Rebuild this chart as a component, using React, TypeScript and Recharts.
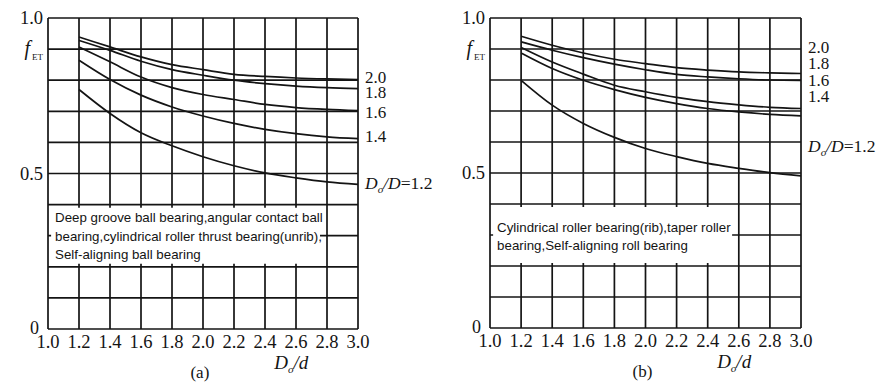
import * as React from "react";
import {
  LineChart,
  Line,
  XAxis,
  YAxis,
  CartesianGrid,
  ReferenceArea,
  ReferenceDot,
} from "recharts";

// f_ET vs Do/d for several Do/D ratios, (a) ball bearings, (b) roller bearings

const xTicks = [1.0, 1.2, 1.4, 1.6, 1.8, 2.0, 2.2, 2.4, 2.6, 2.8, 3.0];
const yTicks = [0, 0.1, 0.2, 0.3, 0.4, 0.5, 0.6, 0.7, 0.8, 0.9, 1.0];
const ratioX = [1.2, 1.4, 1.6, 1.8, 2.0, 2.2, 2.4, 2.6, 2.8, 3.0];
const curveNames = ["2.0", "1.8", "1.6", "1.4", "1.2"];

// (a) deep groove ball bearing etc.
const ballD20 = [0.939, 0.907, 0.875, 0.85, 0.834, 0.819, 0.812, 0.807, 0.804, 0.802];
const ballD18 = [0.928, 0.896, 0.861, 0.834, 0.816, 0.8, 0.789, 0.781, 0.776, 0.773];
const ballD16 = [0.907, 0.859, 0.81, 0.776, 0.754, 0.738, 0.722, 0.712, 0.706, 0.702];
const ballD14 = [0.864, 0.802, 0.752, 0.714, 0.685, 0.661, 0.642, 0.628, 0.618, 0.612];
const ballD12 = [0.77, 0.693, 0.631, 0.589, 0.554, 0.525, 0.502, 0.486, 0.473, 0.465];

// (b) cylindrical roller bearing etc.
const rollD20 = [0.941, 0.912, 0.887, 0.867, 0.853, 0.84, 0.832, 0.826, 0.823, 0.821];
const rollD18 = [0.923, 0.896, 0.872, 0.851, 0.833, 0.818, 0.81, 0.804, 0.8, 0.799];
const rollD16 = [0.905, 0.858, 0.819, 0.783, 0.762, 0.744, 0.73, 0.72, 0.712, 0.708];
const rollD14 = [0.887, 0.837, 0.799, 0.769, 0.744, 0.724, 0.708, 0.697, 0.689, 0.684];
const rollD12 = [0.799, 0.719, 0.66, 0.615, 0.579, 0.553, 0.531, 0.515, 0.501, 0.491];

// where the curve labels sit on the right (in f_ET units)
const ballLabelY = [0.81, 0.762, 0.695, 0.618, 0.469];
const rollLabelY = [0.906, 0.855, 0.8, 0.746, 0.588];

const ballNote = [
  "Deep groove ball bearing,angular contact ball",
  "bearing,cylindrical roller thrust bearing(unrib),",
  "Self-aligning ball bearing",
];
const rollNote = [
  "Cylindrical roller bearing(rib),taper roller",
  "bearing,Self-aligning roll bearing",
];

const SERIF = "'Liberation Serif', 'Times New Roman', serif";
const SANS = "'Liberation Sans', Arial, sans-serif";
const INK = "#141414";

function buildRows(series: number[][]) {
  return ratioX.map((x, i) => {
    const row: Record<string, number> = { x };
    series.forEach((s, k) => {
      row["d" + k] = s[i];
    });
    return row;
  });
}

const YTick = (props: any) => {
  const { x, y, payload } = props;
  const v = payload.value;
  if (v === 0)
    return (
      <text x={x - 4} y={y} dy="0.3em" textAnchor="end" fontFamily={SERIF} fontSize={18} fill={INK}>
        0
      </text>
    );
  if (v === 0.5 || v === 1)
    return (
      <text x={x} y={y} dy="0.33em" textAnchor="end" fontFamily={SERIF} fontSize={18.5} fill={INK}>
        {v.toFixed(1)}
      </text>
    );
  if (v === 0.9)
    return (
      <text x={x} y={y} dy="0.35em" textAnchor="end" fontFamily={SERIF} fill={INK}>
        <tspan fontSize={20} fontStyle="italic">f</tspan>
        <tspan fontSize={9} dx={2} dy={5}>ET</tspan>
      </text>
    );
  return null;
};

interface IPanelProps {
  series: number[][];
  labelY: number[];
  note: string[];
  noteX2: number;
  noteTop: number;
  caption: string;
  left: number;
  right: number;
  bottom: number;
}

const Panel: React.FC<IPanelProps> = (p) => {
  const rows = buildRows(p.series);

  const curveLabel = (name: string) => (lp: any) => {
    const vb = lp.viewBox || {};
    const tx = vb.x + 7;
    if (name === "1.2") {
      return (
        <text x={tx} y={vb.y} dy="0.35em" fontFamily={SERIF} fontSize={17.5} fill={INK}>
          <tspan fontStyle="italic">D</tspan>
          <tspan fontStyle="italic" fontSize={11} dy={4}>o</tspan>
          <tspan fontStyle="italic" dy={-4}>/D</tspan>
          <tspan>=1.2</tspan>
        </text>
      );
    }
    return (
      <text x={tx} y={vb.y} dy="0.33em" fontFamily={SERIF} fontSize={17} fill={INK}>
        {name}
      </text>
    );
  };

  const noteLabel = (lp: any) => {
    const vb = lp.viewBox || {};
    return (
      <text fontFamily={SANS} fontSize={13.3} fill={INK}>
        {p.note.map((line, i) => (
          <tspan key={i} x={vb.x + 4} y={vb.y + p.noteTop + i * 18.6}>
            {line}
          </tspan>
        ))}
      </text>
    );
  };

  const captionLabel = (lp: any) => {
    const vb = lp.viewBox || {};
    const w = vb.width;
    return (
      <g fontFamily={SERIF} fill={INK}>
        <text x={vb.x + w * 0.785} y={vb.y + 40} textAnchor="middle" fontSize={19}>
          <tspan fontStyle="italic">D</tspan>
          <tspan fontStyle="italic" fontSize={11} dy={4}>o</tspan>
          <tspan fontStyle="italic" dy={-4}>/d</tspan>
        </text>
        <text x={vb.x + w * 0.49} y={vb.y + 49} textAnchor="middle" fontSize={17}>
          {p.caption}
        </text>
      </g>
    );
  };

  return (
    <LineChart
      width={445}
      height={383}
      data={rows}
      margin={{ top: 18, right: p.right, left: 0, bottom: 0 }}
    >
      <CartesianGrid stroke={INK} strokeWidth={1.7} />
      <XAxis
        dataKey="x"
        type="number"
        domain={[1, 3]}
        ticks={xTicks}
        tickFormatter={(v: number) => v.toFixed(1)}
        tick={{ fontFamily: SERIF, fontSize: 18.5, fill: INK }}
        tickLine={false}
        axisLine={false}
        tickSize={0}
        tickMargin={6}
        height={p.bottom}
        interval={0}
        label={{ content: captionLabel }}
      />
      <YAxis
        type="number"
        domain={[0, 1]}
        ticks={yTicks}
        tick={<YTick />}
        tickLine={false}
        axisLine={false}
        tickSize={0}
        tickMargin={5}
        width={p.left}
        interval={0}
      />
      <ReferenceArea
        x1={1.02}
        x2={p.noteX2}
        y1={0.21}
        y2={0.39}
        fill="#ffffff"
        fillOpacity={1}
        stroke="none"
        label={{ content: noteLabel }}
      />
      {p.series.map((_, k) => (
        <Line
          key={k}
          type="monotone"
          dataKey={"d" + k}
          stroke={INK}
          strokeWidth={1.7}
          dot={false}
          activeDot={false}
          isAnimationActive={false}
        />
      ))}
      {curveNames.map((name, k) => (
        <ReferenceDot
          key={name}
          x={3}
          y={p.labelY[k]}
          r={0}
          fill="none"
          stroke="none"
          label={{ content: curveLabel(name) }}
        />
      ))}
    </LineChart>
  );
};

export default function App() {
  return (
    <div style={{ position: "absolute", left: 0, top: 0, width: 890, height: 383, background: "#fff", display: "flex" }}>
      <Panel
        series={[ballD20, ballD18, ballD16, ballD14, ballD12]}
        labelY={ballLabelY}
        note={ballNote}
        noteX2={2.755}
        noteTop={14.5}
        caption="(a)"
        left={48}
        right={87}
        bottom={54}
      />
      <Panel
        series={[rollD20, rollD18, rollD16, rollD14, rollD12]}
        labelY={rollLabelY}
        note={rollNote}
        noteX2={2.557}
        noteTop={24.5}
        caption="(b)"
        left={45}
        right={89}
        bottom={55}
      />
    </div>
  );
}
